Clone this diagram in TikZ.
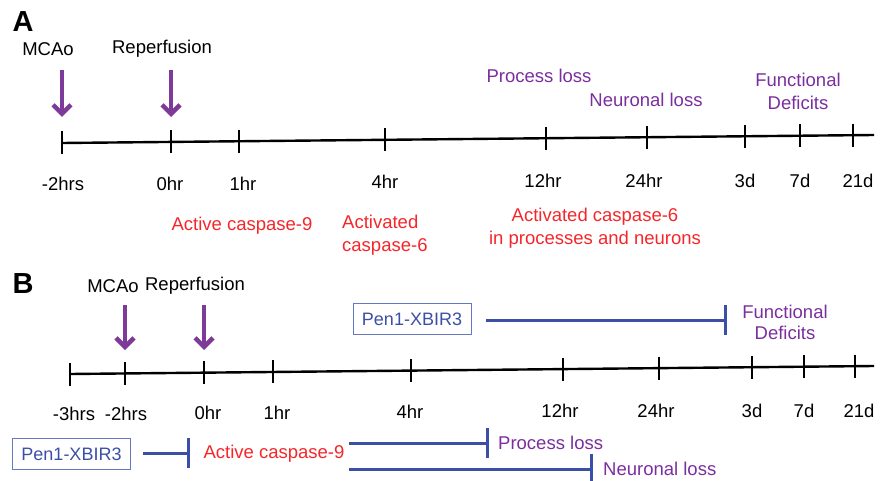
\documentclass[tikz,border=0pt]{standalone}
\usepackage{fontspec}
\setmainfont{Liberation Sans}
\usetikzlibrary{arrows.meta}
\definecolor{pur}{HTML}{7B2E9E}
\definecolor{arr}{HTML}{7E3A98}
\definecolor{rd}{HTML}{F5262A}
\definecolor{bl}{HTML}{3B4FA6}
\definecolor{bxl}{HTML}{6677C4}
\begin{document}
\begin{tikzpicture}[x=1pt,y=-1pt,
  every node/.style={inner sep=0pt, font=\fontsize{18.5}{23}\selectfont},
  lbl/.style={anchor=base},
  purlbl/.style={anchor=base, text=pur},
  redlbl/.style={anchor=base, text=rd},
  panel/.style={anchor=base, font=\fontsize{29}{30}\selectfont\bfseries},
  axis/.style={line width=2.4pt, draw=black},
  tickmark/.style={line width=2.4pt, draw=black},
  event/.style={draw=arr, line width=4.5pt, -{Straight Barb[length=9pt,width=18pt]}},
  inhibit/.style={draw=bl, line width=3pt, -{Bar[width=30pt]}},
  drugbox/.style={draw=bxl, line width=1pt, text=bl, minimum width=118pt, minimum height=31pt, font=\fontsize{18}{20}\selectfont}
]
\useasboundingbox (0,0) rectangle (888,481);

% ---------------- Panel A ----------------
\node[panel] (pA) at (23,32) {A};
\node[lbl] (mcaoA) at (48,56) {MCAo};
\node[lbl] (repA) at (162,53.5) {Reperfusion};
\coordinate (aS1) at (62,70);  \coordinate (aE1) at (62,117);
\coordinate (aS2) at (171,70); \coordinate (aE2) at (171,117);
\draw[event] (aS1) -- (aE1);
\draw[event] (aS2) -- (aE2);

\coordinate (lineA0) at (62,143);
\coordinate (lineA1) at (874,135);
\draw[axis] (lineA0) -- (lineA1);
\foreach \x in {62,171,239,385,546,647,745,800,853}
  \draw[tickmark] (\x,{143-8*(\x-62)/812-11.5}) -- ++(0,23);

\node[lbl] (tA1) at (63,190.5) {-2hrs};
\node[lbl] (tA2) at (170,190) {0hr};
\node[lbl] (tA3) at (243,190) {1hr};
\node[lbl] (tA4) at (385,189) {4hr};
\node[lbl] (tA5) at (543,187.5) {12hr};
\node[lbl] (tA6) at (644,187) {24hr};
\node[lbl] (tA7) at (745,187) {3d};
\node[lbl] (tA8) at (800,187) {7d};
\node[lbl] (tA9) at (858,187) {21d};

\node[redlbl] (c9A) at (242,230) {Active caspase-9};
\node[redlbl, anchor=base west, align=left] (c6A) at (342,251) {Activated\\caspase-6};
\node[redlbl, align=center] (c6nA) at (595,244) {Activated caspase-6\\in processes and neurons};

\node[purlbl] (plA) at (539,83) {Process loss};
\node[purlbl] (nlA) at (646,107) {Neuronal loss};
\node[purlbl, align=center] (fdA) at (798,110) {Functional\\Deficits};

% ---------------- Panel B ----------------
\node[panel] (pB) at (23,293) {B};
\node[lbl] (mcaoB) at (113,292) {MCAo};
\node[lbl] (repB) at (195,290) {Reperfusion};
\coordinate (bS1) at (125,305); \coordinate (bE1) at (125,350);
\coordinate (bS2) at (204,305); \coordinate (bE2) at (204,350);
\draw[event] (bS1) -- (bE1);
\draw[event] (bS2) -- (bE2);

\coordinate (lineB0) at (70,374);
\coordinate (lineB1) at (874,366);
\draw[axis] (lineB0) -- (lineB1);
\foreach \x in {70,125,204,273,411,563,659,752,804,855}
  \draw[tickmark] (\x,{374-8*(\x-70)/804-11.5}) -- ++(0,23);

\node[lbl] (tB0) at (74,420) {-3hrs};
\node[lbl] (tB1) at (126,420) {-2hrs};
\node[lbl] (tB2) at (208,419.5) {0hr};
\node[lbl] (tB3) at (277,419) {1hr};
\node[lbl] (tB4) at (410,418.5) {4hr};
\node[lbl] (tB5) at (560,417.5) {12hr};
\node[lbl] (tB6) at (656,417) {24hr};
\node[lbl] (tB7) at (752,417) {3d};
\node[lbl] (tB8) at (804,417) {7d};
\node[lbl] (tB9) at (859,417) {21d};

\node[drugbox] (boxT) at (412,319) {Pen1-XBIR3};
\coordinate (barT) at (727,320);
\draw[inhibit, shorten <=14pt] (boxT.east |- barT) -- (barT);
\node[purlbl, align=center, font=\fontsize{18.5}{21}\selectfont] (fdB) at (785,339) {Functional\\Deficits};

\node[drugbox] (boxB) at (71.5,454) {Pen1-XBIR3};
\coordinate (barB) at (190,453);
\draw[inhibit, shorten <=12pt] (boxB.east |- barB) -- (barB);
\node[redlbl] (c9B) at (274,458) {Active caspase-9};

\coordinate (pS) at (349,443); \coordinate (pE) at (489,443);
\coordinate (nS) at (349,469); \coordinate (nE) at (593,469);
\draw[inhibit] (pS) -- (pE);
\draw[inhibit] (nS) -- (nE);
\node[purlbl, anchor=base west] (plB) at (498,449) {Process loss};
\node[purlbl, anchor=base west] (nlB) at (603,475) {Neuronal loss};
\end{tikzpicture}
\end{document}
